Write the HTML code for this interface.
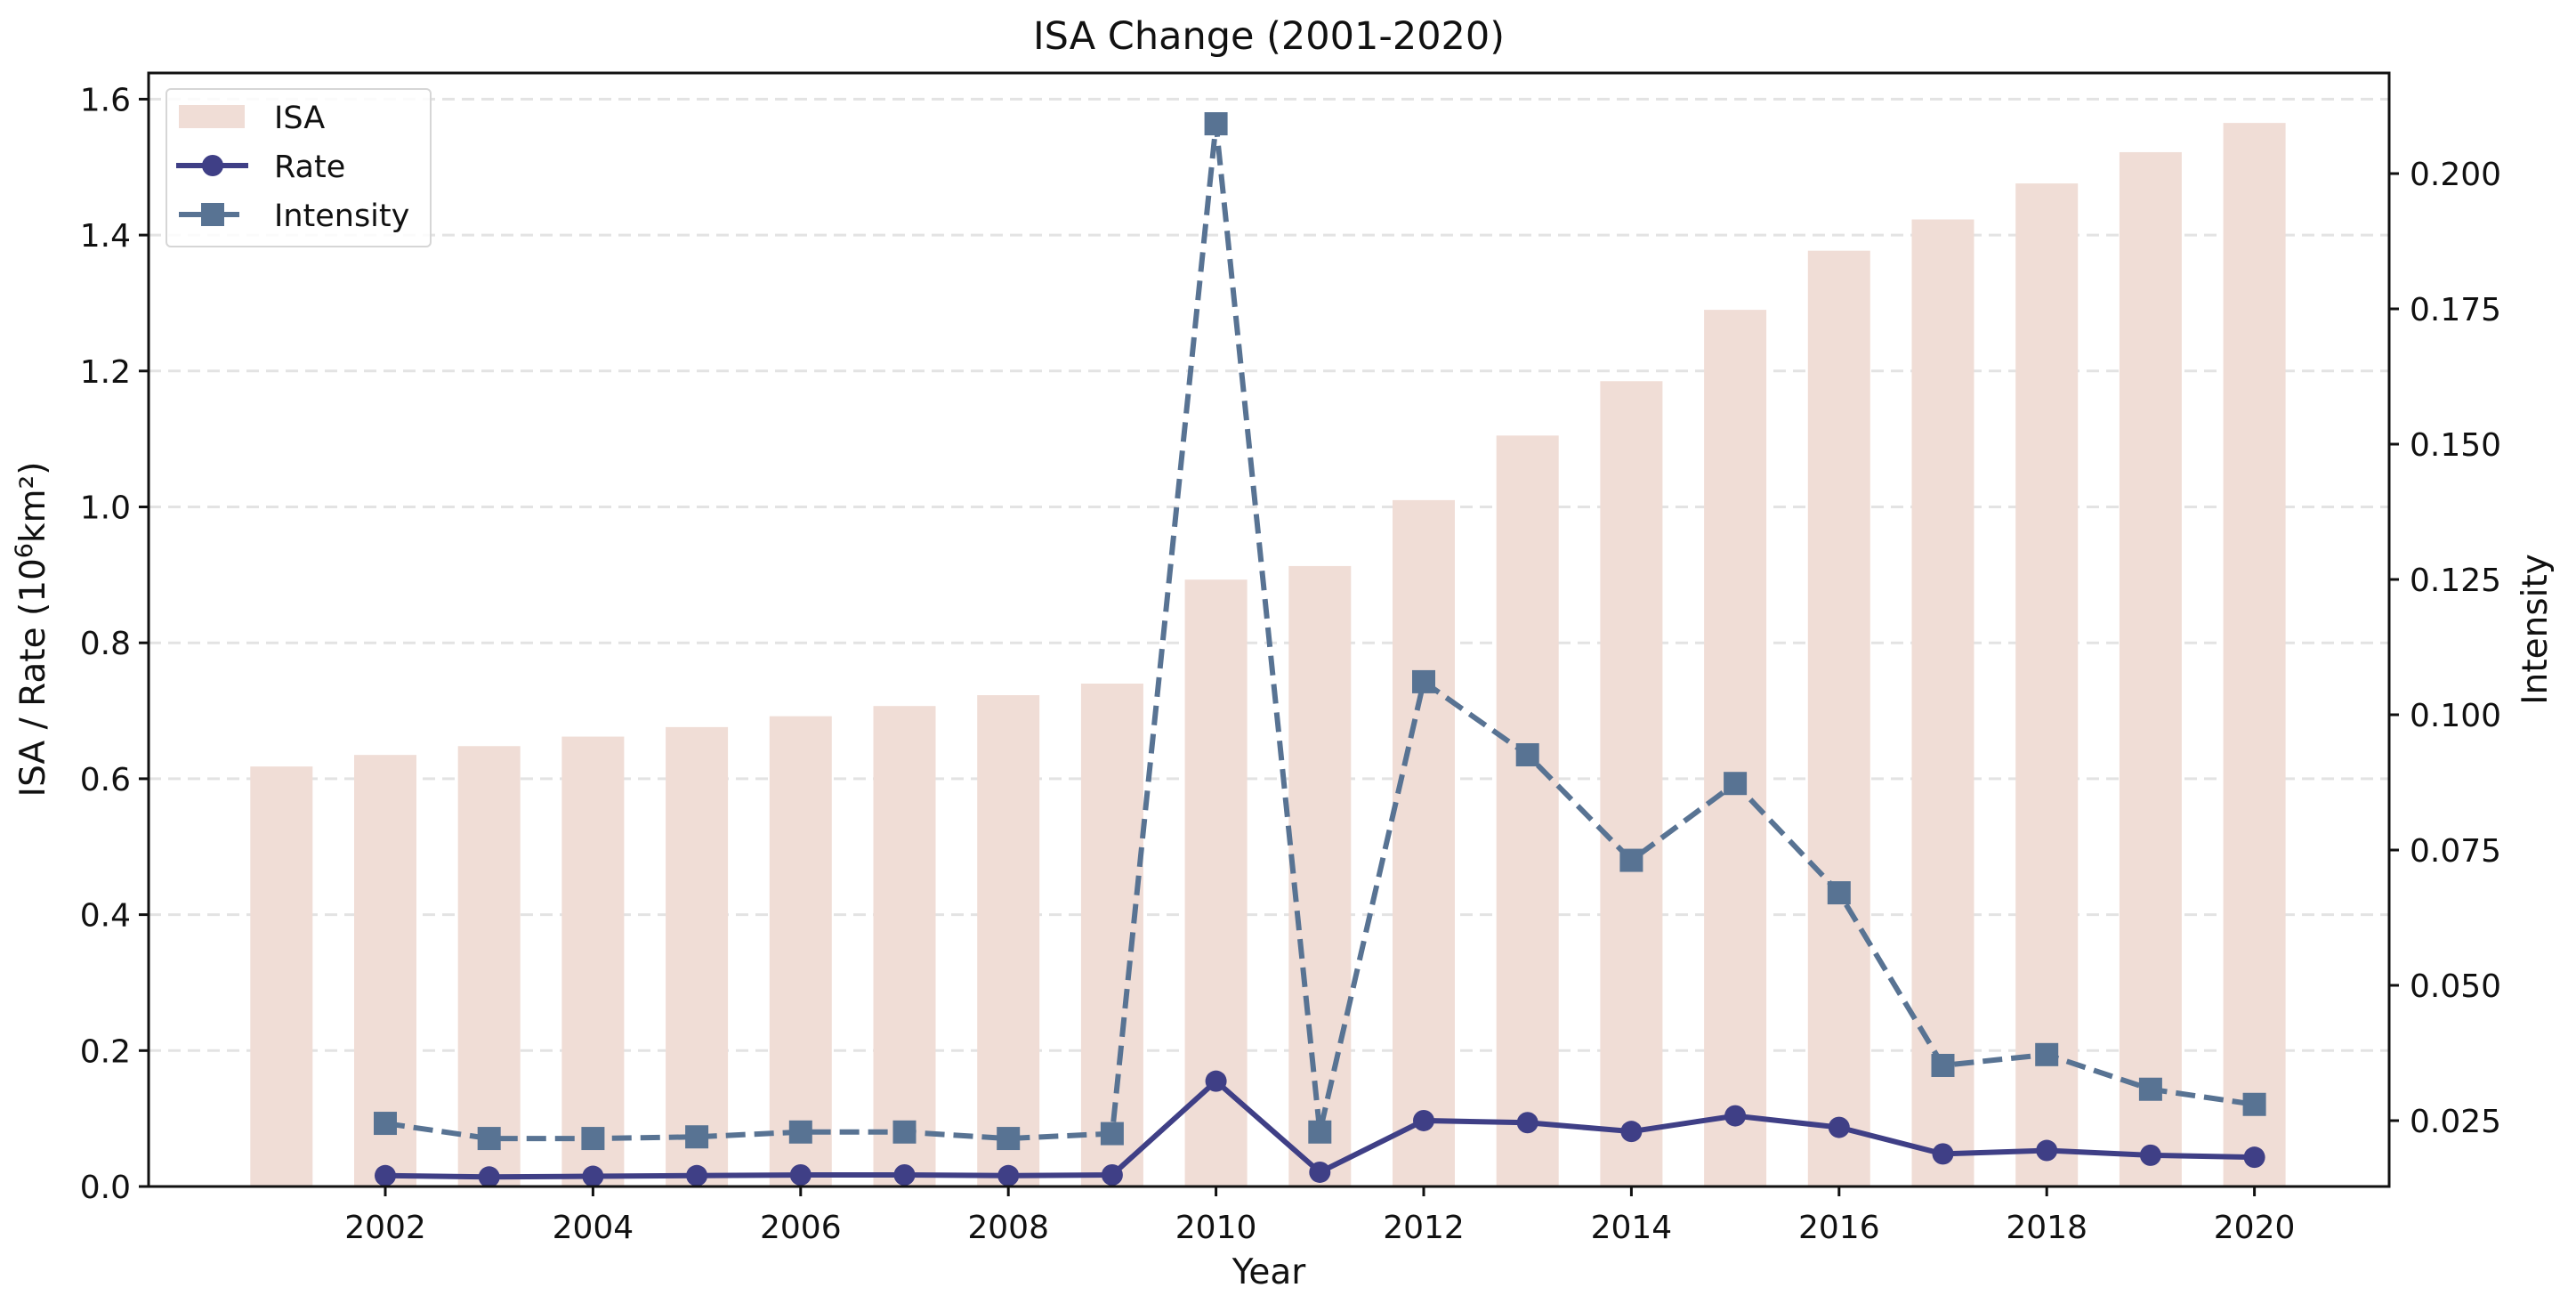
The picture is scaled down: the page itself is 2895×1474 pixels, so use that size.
<!DOCTYPE html>
<html><head><meta charset="utf-8"><style>
html,body{margin:0;padding:0;background:#fff;}
svg{display:block;font-family:"DejaVu Sans","Liberation Sans",sans-serif;}
</style></head><body>
<svg id="chart" width="2895" height="1474" viewBox="0 0 2895 1474" xmlns="http://www.w3.org/2000/svg">
<rect width="2895" height="1474" fill="#fff"/>
<g id="grid"></g>
<g id="bars"></g>
<g id="lines"></g>
<g id="axes"></g>
<text x="1426" y="55" font-size="43" text-anchor="middle" fill="#111">ISA Change (2001-2020)</text>
<text x="1426" y="1442" font-size="39" text-anchor="middle" fill="#111">Year</text>
<text transform="translate(50,707) rotate(-90)" font-size="39" text-anchor="middle" fill="#111">ISA / Rate (10<tspan font-size="27" dy="-14">6</tspan><tspan dy="14">km²)</tspan></text>
<text transform="translate(2862,707) rotate(-90)" font-size="39" text-anchor="middle" fill="#111">Intensity</text>
<g>
<rect x="187" y="100" width="297" height="177" rx="5" fill="#fff" fill-opacity="0.85" stroke="#d6d6d6" stroke-width="2"/>
<rect x="201" y="118" width="74" height="26" fill="#f0ddd6"/>
<text x="308" y="144" font-size="35" fill="#111">ISA</text>
<line x1="198" y1="186" x2="279" y2="186" stroke="#3f3f86" stroke-width="6"/>
<circle cx="239" cy="186" r="12" fill="#3f3f86"/>
<text x="308" y="199" font-size="35" fill="#111">Rate</text>
<line x1="201" y1="241" x2="269" y2="241" stroke="#587393" stroke-width="6"/>
<rect x="226" y="228" width="26" height="26" fill="#587393"/>
<text x="308" y="254" font-size="35" fill="#111">Intensity</text>
</g>
<script>
const years = [2001,2002,2003,2004,2005,2006,2007,2008,2009,2010,2011,2012,2013,2014,2015,2016,2017,2018,2019,2020];
const isaValues = [0.618,0.635,0.648,0.662,0.676,0.692,0.707,0.723,0.740,0.893,0.913,1.010,1.105,1.185,1.290,1.377,1.423,1.476,1.522,1.565];
const lineYears = [2002,2003,2004,2005,2006,2007,2008,2009,2010,2011,2012,2013,2014,2015,2016,2017,2018,2019,2020];
const rateValues = [0.016,0.014,0.015,0.016,0.017,0.017,0.016,0.017,0.155,0.021,0.097,0.094,0.081,0.104,0.087,0.048,0.053,0.046,0.043];
const intensityValues = [0.0245,0.0217,0.0217,0.0220,0.0229,0.0229,0.0217,0.0226,0.2092,0.0229,0.1061,0.0926,0.0731,0.0873,0.0671,0.0352,0.0372,0.0308,0.0280];
const xTicks = [2002,2004,2006,2008,2010,2012,2014,2016,2018,2020];
const yTicks = [0.0,0.2,0.4,0.6,0.8,1.0,1.2,1.4,1.6];
const yTickLabels = ["0.0","0.2","0.4","0.6","0.8","1.0","1.2","1.4","1.6"];
const y2Ticks = [0.025,0.05,0.075,0.1,0.125,0.15,0.175,0.2];
const y2TickLabels = ["0.025","0.050","0.075","0.100","0.125","0.150","0.175","0.200"];

const L=167,R=2685,T=82,B=1333;
const NS="http://www.w3.org/2000/svg";
function xs(v){return 433+(v-2002)*116.7;}
function ys(v){return 1333-v*763.5;}
function ys2(v){return 1259-(v-0.025)*6080;}
function mk(tag,attrs,parent){const e=document.createElementNS(NS,tag);for(const k in attrs)e.setAttribute(k,attrs[k]);parent.appendChild(e);return e;}
const grid=document.getElementById('grid'),bars=document.getElementById('bars'),lines=document.getElementById('lines'),axes=document.getElementById('axes');

yTicks.forEach((v,i)=>{
  if(i>0){const g=mk('line',{x1:L,x2:R,y1:ys(v),y2:ys(v),stroke:'#e3e3e3','stroke-width':3,'stroke-dasharray':'14,8'},grid);
  
  }
  const t=mk('line',{x1:L-11,x2:L,y1:ys(v),y2:ys(v),stroke:'#111','stroke-width':3},axes);
  
  
  const tx=mk('text',{x:L-20,y:ys(v)+13,'font-size':36,'text-anchor':'end',fill:'#111'},axes);
  tx.textContent=yTickLabels[i];
  
  
});
y2Ticks.forEach((v,i)=>{
  const t=mk('line',{x1:R,x2:R+11,y1:ys2(v),y2:ys2(v),stroke:'#111','stroke-width':3},axes);
  
  
  const tx=mk('text',{x:R+23,y:ys2(v)+13,'font-size':36,fill:'#111'},axes);
  tx.textContent=y2TickLabels[i];
  
  
});
xTicks.forEach(v=>{
  const t=mk('line',{x1:xs(v),x2:xs(v),y1:B,y2:B+11,stroke:'#111','stroke-width':3},axes);
  
  
  const tx=mk('text',{x:xs(v),y:B+58,'font-size':36,'text-anchor':'middle',fill:'#111'},axes);
  tx.textContent=String(v);
  
  
});
const frame=mk('rect',{x:L,y:T,width:R-L,height:B-T,fill:'none',stroke:'#111','stroke-width':3},axes);



years.forEach((yr,i)=>{
  const w=70;
  const b=mk('rect',{x:xs(yr)-w/2,y:ys(isaValues[i]),width:w,height:B-ys(isaValues[i]),fill:'#f0ddd6'},bars);
  
  
});
const ipts=lineYears.map((yr,i)=>xs(yr)+','+ys2(intensityValues[i])).join(' ');
const il=mk('polyline',{points:ipts,fill:'none',stroke:'#587393','stroke-width':6,'stroke-dasharray':'22,10'},lines);


lineYears.forEach((yr,i)=>{
  const s=mk('rect',{x:xs(yr)-13,y:ys2(intensityValues[i])-13,width:26,height:26,fill:'#587393'},lines);
  
  
});
const rpts=lineYears.map((yr,i)=>xs(yr)+','+ys(rateValues[i])).join(' ');
const rl=mk('polyline',{points:rpts,fill:'none',stroke:'#3f3f86','stroke-width':6},lines);


lineYears.forEach((yr,i)=>{
  const c=mk('circle',{cx:xs(yr),cy:ys(rateValues[i]),r:12,fill:'#3f3f86'},lines);
  
  
});
</script>
</svg>
</body></html>
